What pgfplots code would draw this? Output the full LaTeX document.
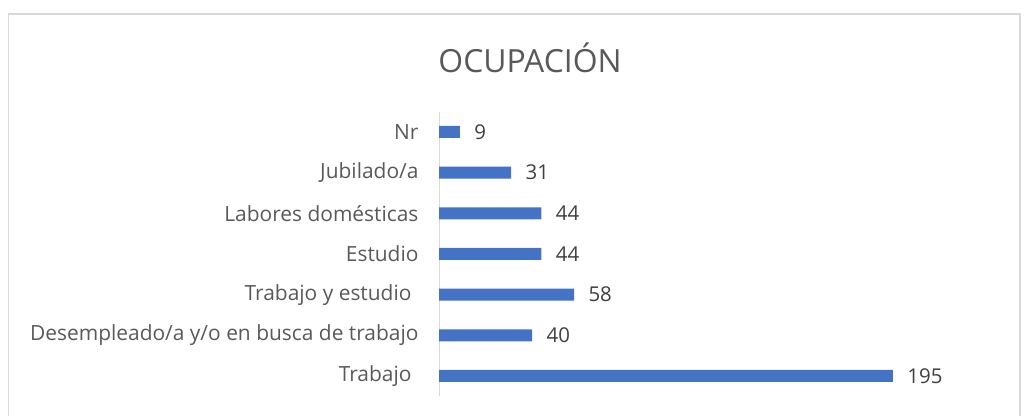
\documentclass[border=0pt]{standalone}
\usepackage{fontspec}
\setmainfont{Open Sans}
\usepackage{pgfplots}
\pgfplotsset{compat=1.18}
\definecolor{barblue}{HTML}{4472C4}
\definecolor{txt}{HTML}{595959}
\definecolor{num}{HTML}{404040}
\definecolor{frame}{HTML}{D9D9D9}
\begin{document}
\begin{tikzpicture}[x=1bp,y=1bp]
\useasboundingbox (0,0) rectangle (1035,415);
\draw[frame, line width=1.5bp] (8.5,-5) -- (8.5,401) -- (1020,401) -- (1020,-5);
\node[txt, font=\fontsize{32}{38}\selectfont] at (530,357) {OCUPACIÓN};
\begin{axis}[
  at={(439bp,18.7bp)}, anchor=south west, scale only axis,
  width=465.6bp, height=284.7bp,
  xmin=0, xmax=200, ymin=-0.5, ymax=6.5,
  xbar, bar width=12bp,
  hide x axis,
  axis y line*=left,
  y axis line style={frame, line width=1bp, -},
  ytick={0,...,6},
  yticklabels={Trabajo\hspace*{7bp}, Desempleado/a y/o en busca de trabajo, Trabajo y estudio\hspace*{7bp}, Estudio, Labores domésticas, Jubilado/a, Nr},
  major tick length=0pt,
  yticklabel style={txt, font=\fontsize{21}{25}\selectfont, xshift=-17bp},
  nodes near coords,
  /pgf/number format/assume math mode=true,
  nodes near coords style={num, font=\fontsize{20.5}{24}\selectfont, xshift=11bp},
]
\addplot[fill=barblue, draw=none] coordinates {(195,0) (40,1) (58,2) (44,3) (44,4) (31,5) (9,6)};
\end{axis}
\end{tikzpicture}
\end{document}
